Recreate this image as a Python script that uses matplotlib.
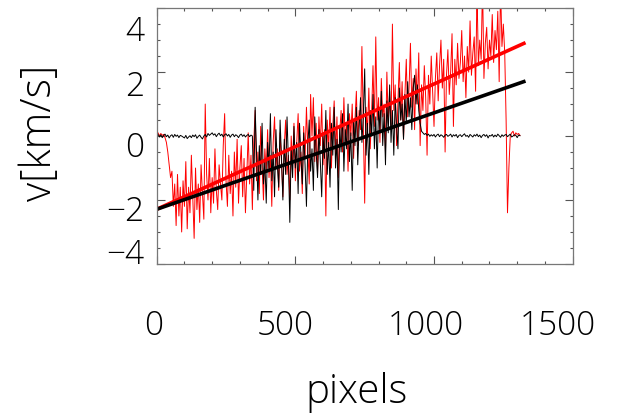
import numpy as np
import matplotlib
matplotlib.use('Agg')
import matplotlib.pyplot as plt
import matplotlib.transforms as mtrans


# sample spacing along the slit, in pixels
step = 5

# red profile, one value every 5 pixels starting at pixel 0
red_v = [
	0.05, 0.1, 0.0, 0.08, 0.02, 0.05, -0.05, -0.2, -0.5, -0.9, -1.3, -1.1, -2.2, -1.5, -2.8, -1.2, -2.5, -1.6, -3.0, -1.4,
	-2.2, -0.8, -2.9, -1.6, -2.4, -0.6, -1.9, -3.2, -1.0, -2.3, -1.5, -2.7, -0.9, -1.8, -2.6, 1.0, -1.2, -2.0, -0.7, -2.4,
	-1.3, -2.1, -0.4, -1.7, -2.3, -0.9, -1.5, -2.0, -0.3, 0.7, -1.4, -2.2, -0.6, -1.8, -1.1, -2.5, -0.5, -1.6, -0.1, -2.1,
	-1.0, -0.3, -1.9, -0.7, -2.4, -1.2, 0.1, -1.5, -0.6, -2.3, -0.2, 0.8, -1.4, -0.5, -1.8, 0.3, -0.9, -2.0, -0.4, -1.1,
	0.2, -1.3, -0.6, -2.2, -0.2, 0.6, -1.0, -0.4, -1.7, 0.1, -0.8, -1.9, -0.3, 0.5, -1.2, -0.6, -2.0, 0.0, -0.9, 0.4,
	-1.4, -0.2, 0.7, -1.1, -0.5, -1.8, 0.3, -0.7, 0.9, -0.4, -1.5, 1.3, 0.0, 1.2, -0.8, 0.4, -1.2, 0.6, -0.3, 1.0,
	-0.9, 0.2, -2.5, 0.5, -0.4, 0.9, -1.0, 0.3, 1.1, -0.6, 0.6, -1.3, 0.1, 0.8, -0.5, 1.2, -0.2, 0.4, -1.1, 0.7,
	0.0, 1.0, -0.7, 0.5, 1.4, -0.3, 0.8, 0.2, 2.8, 0.4, -2.1, 0.9, 0.1, 1.5, -0.4, 0.7, 2.2, 0.3, 3.1, 0.5,
	1.2, -0.2, 1.8, 0.6, 1.0, -0.5, 2.0, 0.4, 1.4, 0.2, 3.5, 0.8, 1.6, -0.3, 1.1, 2.3, 0.5, 1.7, -0.1, 1.3,
	2.4, 0.6, 1.5, 2.9, 0.9, 1.8, 0.2, 2.1, 1.0, 2.6, -0.3, 1.6, 0.8, 2.2, 1.2, -0.6, 1.9, 1.0, 2.5, 1.4,
	0.3, 1.8, 2.6, 1.1, 2.2, 3.0, 1.5, 2.4, -0.5, 1.9, 2.7, 1.3, 2.0, 3.2, 0.3, 2.4, 1.6, 2.9, 1.8, 2.3,
	3.3, 1.7, 2.5, 1.2, 2.8, 2.0, 3.6, 1.9, 2.6, 3.1, 1.4, 4.6, 2.2, 3.0, 2.4, 4.8, 1.8, 2.9, 3.4, 2.1,
	3.0, 2.5, 3.8, 2.3, 3.3, 2.7, 3.9, 1.7, 4.7, 2.8, 3.5, 2.6, 0.5, -2.4, -1.0, 0.0, 0.1, 0.15, 0.0, 0.1,
	0.05, 0.08, 0.02,
]

# black profile on the same pixel grid
black_v = [
	0.0, 0.05, -0.03, 0.04, -0.05, 0.02, 0.06, -0.02, 0.03, -0.06, 0.01, 0.04, -0.04, 0.05, -0.01, 0.03, -0.05, 0.02, 0.0, -0.03,
	-0.06, 0.02, -0.08, -0.03, 0.01, -0.05, 0.03, -0.02, 0.04, -0.07, -0.01, 0.03, -0.04, -0.09, 0.0, 0.05, -0.03, 0.08, 0.02, 0.06,
	0.1, 0.03, 0.07, -0.02, 0.05, 0.09, 0.01, 0.06, -0.03, 0.04, 0.07, 0.0, 0.05, -0.04, 0.03, 0.06, -0.02, 0.04, 0.01, -0.05,
	0.03, 0.06, -0.01, 0.04, -0.03, 0.02, 0.05, -0.02, 0.03, 0.0,
	-1.7, 0.9, -0.6, -2.0, -0.3, -1.2, 0.4, -1.5, -0.8, -2.1,
	-0.2, -1.0, 0.7, -1.4, -0.5, -1.9, 0.2, -0.9, -1.6, 0.5,
	-0.7, -2.0, -0.1, -1.2, 0.6, -0.8, -2.7, -0.4, -1.3, 0.3,
	-1.0, -0.2, -1.8, 0.4, -0.6, -1.5, 0.1, -0.9, -2.2, -0.3,
	0.5, -1.1, -0.4, -1.7, 0.6, -0.5, -1.3, 0.2, -0.8, -1.9,
	0.0, -0.7, 0.8, -1.2, -0.2, -1.6, 0.4, -0.6, 0.9, -1.0,
	-0.1, -2.3, 0.3, -0.5, 0.7, -1.1, 0.2, -0.4, 1.0, -0.8,
	0.1, -1.7, 0.5, -0.3, 0.9, -0.9, 0.3, 1.2, -0.2, 0.6,
	2.1, -0.6, 0.4, -1.2, 0.8, 0.0, 1.3, -0.4, 0.6, -1.0,
	0.9, 0.2, 1.4, -0.3, 0.7, -0.9, 1.1, 0.1, 1.6, -0.2,
	0.8, -0.6, 1.2, 0.3, -0.4, 1.5, 0.5, 1.0, -0.1, 1.3,
	0.4, 1.7, 0.6, 1.2, 0.2, 1.5, 1.9, 1.0, 1.6, 0.8,
	0.4, 0.15, 0.1, 0.05, 0.08, 0.02, 0.06, -0.01, 0.04, 0.0, 0.05, -0.03, 0.03, 0.06, -0.02, 0.04, 0.01, -0.04, 0.03, 0.05,
	-0.01, 0.02, 0.06, -0.03, 0.04, 0.0, 0.05, -0.05, 0.02, 0.04, -0.02, 0.03, 0.07, -0.01, 0.02, -0.04, 0.05, 0.01, -0.03, 0.04,
	0.0, 0.06, -0.02, 0.03, -0.05, 0.02, 0.05, -0.01, 0.04, -0.06, 0.02, 0.0, 0.05, -0.03, 0.03, -0.02, 0.06, 0.01, -0.04, 0.04,
	-0.01, 0.03, 0.05, -0.02, 0.02, 0.06, -0.03, 0.0, 0.04, 0.02, -0.05, 0.03, 0.01,
]

# linear fits drawn over the profiles
fit_x = [0, 1330]
red_fit = [-2.29, 2.92]
black_fit = [-2.29, 1.72]

xticks = [0, 500, 1000, 1500]
yticks = [-4, -2, 0, 2, 4]
xtick_labels = ['0', '500', '1000', '1500']
ytick_labels = ['\u22124', '\u22122', '0', '2', '4']


def shift_labels(fig, labels, offsets):
	# nudge each tick label by (dx, dy) points
	for lab, (dx, dy) in zip(labels, offsets):
		lab.set_transform(lab.get_transform() + mtrans.ScaledTranslation(dx / 72., dy / 72., fig.dpi_scale_trans))


def main():
	plt.rcParams['font.family'] = ['Open Sans', 'DejaVu Sans']
	plt.rcParams['font.weight'] = 'light'
	fig = plt.figure(figsize=(6.37, 4.14), dpi=100)
	ax = fig.add_axes([0.246, 0.360, 0.653, 0.618])

	red = np.array(red_v)
	black = np.array(black_v)
	ax.plot(np.arange(red.size) * step, red, color='#ff0000', lw=0.7)
	ax.plot(np.arange(black.size) * step, black, color='black', lw=0.7)
	ax.plot(fit_x, red_fit, color='#ff0000', lw=2.6, solid_capstyle='butt')
	ax.plot(fit_x, black_fit, color='black', lw=2.6, solid_capstyle='butt')

	ax.set_xlim(0, 1500)
	ax.set_ylim(-4, 4)
	ax.set_xticks(xticks)
	ax.set_xticklabels(xtick_labels)
	ax.set_yticks(yticks)
	ax.set_yticklabels(ytick_labels)
	ax.set_xticks(np.arange(0, 1501, 100), minor=True)
	ax.set_yticks(np.arange(-4, 4.01, 0.5), minor=True)

	for sp in ax.spines.values():
		sp.set_color('#777777')
		sp.set_linewidth(0.9)
	ax.tick_params(which='both', direction='in', top=True, right=True, color='#555555', width=0.8)
	ax.tick_params(which='major', length=5.5)
	ax.tick_params(which='minor', length=2.5)
	ax.tick_params(axis='x', which='major', labelsize=24, pad=32)
	ax.tick_params(axis='y', which='major', labelsize=24, pad=9)

	fig.canvas.draw()
	shift_labels(fig, ax.get_xticklabels(), [(-2, 0), (-7, 0), (-6, 0), (-11, 0)])
	shift_labels(fig, ax.get_yticklabels(), [(0, 10), (0, -5.5), (0, -5.5), (0, -7.5), (0, -13.5)])

	fig.text(0.063, 0.68, 'v[km/s]', rotation=90, fontsize=30, ha='center', va='center')
	fig.text(0.560, 1 - 403 / 414., 'pixels', fontsize=29, ha='center', va='baseline')

	fig.savefig('out.png', dpi=100)


if __name__ == '__main__':
	main()
